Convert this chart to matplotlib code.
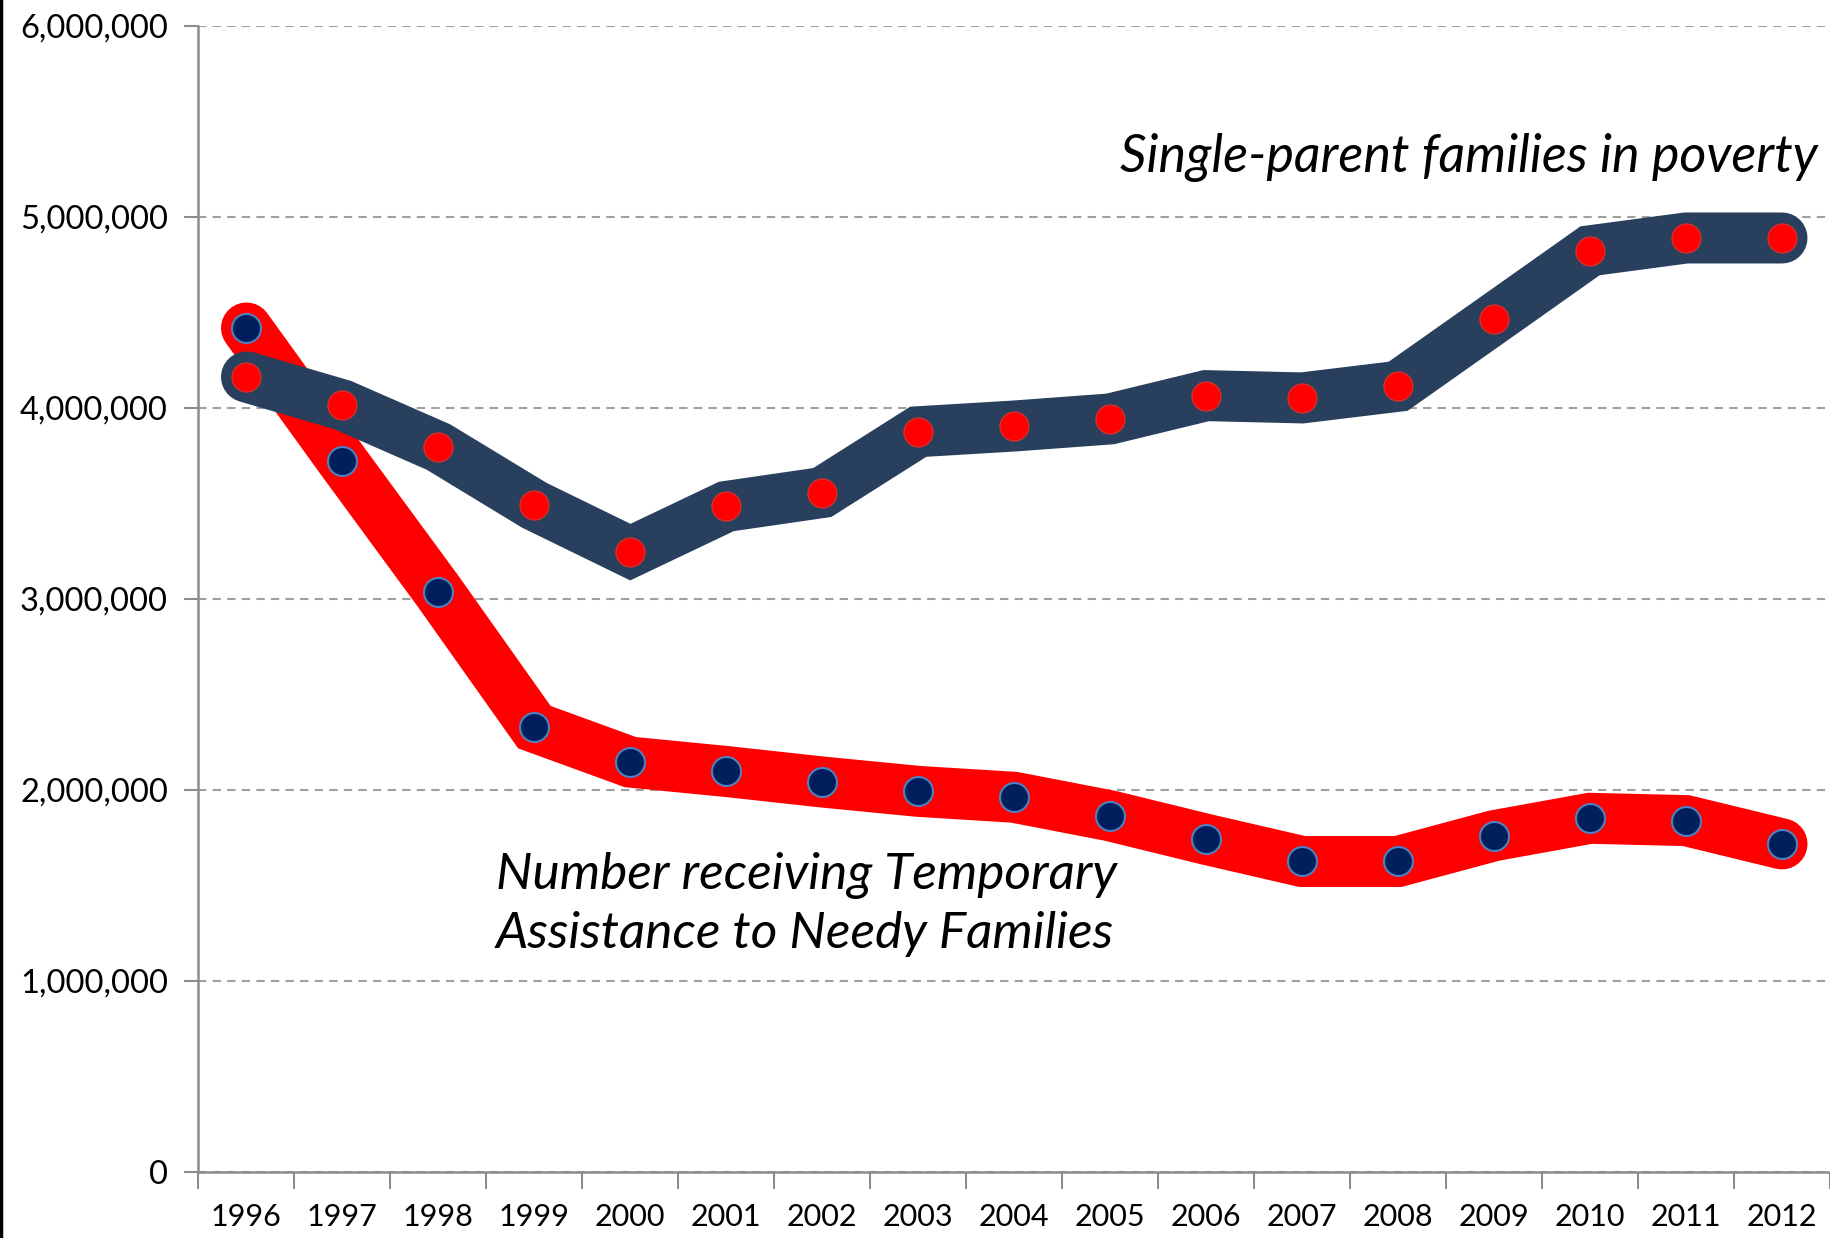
import matplotlib
matplotlib.use("Agg")
import matplotlib.pyplot as plt
from matplotlib.ticker import FuncFormatter, FixedLocator
from matplotlib.lines import Line2D

years = ["1996", "1997", "1998", "1999", "2000", "2001", "2002", "2003", "2004",
         "2005", "2006", "2007", "2008", "2009", "2010", "2011", "2012"]
single_parent_poverty = [4161000, 4014000, 3794000, 3489000, 3244000, 3483000, 3556000,
                         3874000, 3904000, 3941000, 4063000, 4051000, 4112000, 4466000,
                         4821000, 4888000, 4888000]
tanf_recipients = [4417000, 3721000, 3037000, 2328000, 2145000, 2096000, 2041000,
                   1992000, 1961000, 1864000, 1741000, 1625000, 1625000, 1760000,
                   1851000, 1839000, 1717000]
y_ticks = [0, 1000000, 2000000, 3000000, 4000000, 5000000, 6000000]

FONT = ["Lato", "DejaVu Sans"]
plt.rcParams['font.family'] = FONT

W, H = 1831, 1238
fig = plt.figure(figsize=(W / 100, H / 100), dpi=100)
ax = fig.add_axes([198.5 / W, (H - 1172) / H, (1830 - 198.5) / W, (1172 - 25.5) / H])

x = list(range(len(years)))
lw = 51 * 0.72
ms = 29 * 0.72

ax.plot(x, tanf_recipients, color="#FF0000", lw=lw, solid_capstyle="round",
        solid_joinstyle="miter", zorder=3)
ax.plot(x, single_parent_poverty, color="#283F5E", lw=lw, solid_capstyle="round",
        solid_joinstyle="miter", zorder=4)
ax.plot(x, tanf_recipients, ls="none", marker="o", ms=ms, mfc="#001F5C",
        mec="#4F81BD", mew=1.5, zorder=5)
ax.plot(x, single_parent_poverty, ls="none", marker="o", ms=ms, mfc="#FF0000",
        mec="#D03030", mew=1.0, zorder=5)

ax.set_xlim(-0.5, len(years) - 0.5)
ax.set_ylim(0, 6000000)
ax.set_yticks(y_ticks)
ax.yaxis.set_major_formatter(FuncFormatter(lambda v, p: f"{int(v):,}"))
ax.set_xticks(x)
ax.set_xticklabels(years)
ax.xaxis.set_minor_locator(FixedLocator([i - 0.5 for i in range(len(years) + 1)]))

ax.grid(axis="y", color="#A0A0A0", ls=(0, (4, 3)), lw=1.5, zorder=1)
for s in ["top", "right"]:
    ax.spines[s].set_visible(False)
for s in ["left", "bottom"]:
    ax.spines[s].set_color("#8C8C8C")
    ax.spines[s].set_linewidth(1.8)

ax.tick_params(axis="y", length=10, width=1.5, color="#8C8C8C", labelsize=23.5,
               labelcolor="#000000", pad=12)
ax.tick_params(axis="x", which="major", length=0, labelsize=22, pad=22)
ax.tick_params(axis="x", which="minor", length=12, width=1.5, color="#8C8C8C")

ax.text(16.37, 5310000, "Single-parent families in poverty", ha="right", va="center",
        fontsize=37.5, style="italic", color="#000000", zorder=6)
ax.text(2.6, 1400000, "Number receiving Temporary\nAssistance to Needy Families",
        ha="left", va="center", fontsize=37, style="italic", color="#000000",
        linespacing=1.34, zorder=6)

fig.add_artist(Line2D([0.0006, 0.0006], [0, 1], color="black", lw=2.5,
                      transform=fig.transFigure))

fig.savefig("out.png", dpi=100)
